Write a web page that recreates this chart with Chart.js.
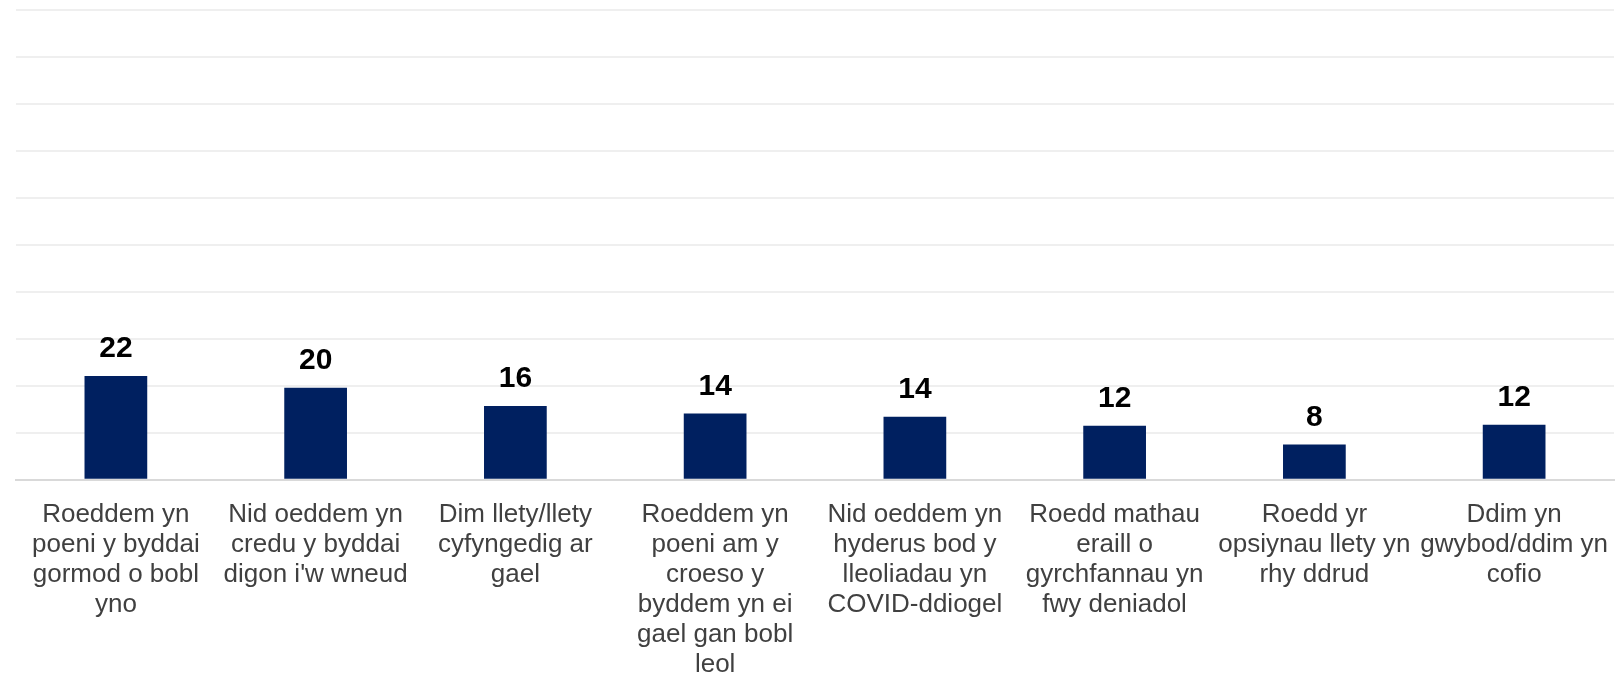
<!DOCTYPE html>
<html>
<head>
<meta charset="utf-8">
<script src="https://cdn.jsdelivr.net/npm/chart.js@4.4.1/dist/chart.umd.min.js"></script>
<style>
  html, body { margin: 0; padding: 0; background: #ffffff; overflow: hidden; }
  #wrap { width: 1623px; height: 680px; }
</style>
</head>
<body>
<div id="wrap"><canvas id="barCanvas" width="1623" height="680"></canvas></div>
<script>
// categories (x axis), multi-line as in the original
const categories = [
  ['Roeddem yn', 'poeni y byddai', 'gormod o bobl', 'yno'],
  ['Nid oeddem yn', 'credu y byddai', "digon i'w wneud"],
  ['Dim llety/llety', 'cyfyngedig ar', 'gael'],
  ['Roeddem yn', 'poeni am y', 'croeso y', 'byddem yn ei', 'gael gan bobl', 'leol'],
  ['Nid oeddem yn', 'hyderus bod y', 'lleoliadau yn', 'COVID-ddiogel'],
  ['Roedd mathau', 'eraill o', 'gyrchfannau yn', 'fwy deniadol'],
  ['Roedd yr', 'opsiynau llety yn', 'rhy ddrud'],
  ['Ddim yn', 'gwybod/ddim yn', 'cofio']
];

// percentages
const values = [22.1, 19.6, 15.7, 14.1, 13.4, 11.5, 7.5, 11.7];

// labels printed above the bars
const valueLabels = ['22', '20', '16', '14', '14', '12', '8', '12'];

const barColor = '#002060';

// draws the value labels above each bar
const valueLabelPlugin = {
  id: 'valueLabels',
  afterDatasetsDraw(chart) {
    const ctx = chart.ctx;
    const meta = chart.getDatasetMeta(0);
    ctx.save();
    ctx.font = 'bold 30px "Liberation Sans", Arial, sans-serif';
    ctx.fillStyle = '#000000';
    ctx.textAlign = 'center';
    ctx.textBaseline = 'alphabetic';
    meta.data.forEach((bar, i) => {
      ctx.fillText(valueLabels[i], bar.x, bar.y - 19);
    });
    ctx.restore();
  }
};

const ctx = document.getElementById('barCanvas').getContext('2d');

new Chart(ctx, {
  type: 'bar',
  data: {
    labels: categories,
    datasets: [
      {
        data: values,
        backgroundColor: barColor,
        borderWidth: 0,
        barPercentage: 0.314,
        categoryPercentage: 1.0
      }
    ]
  },
  options: {
    responsive: false,
    animation: false,
    layout: {
      padding: { left: 16, right: 9, top: 10, bottom: 0 }
    },
    plugins: {
      legend: { display: false },
      tooltip: { enabled: false }
    },
    scales: {
      x: {
        grid: { display: false, drawTicks: false },
        border: { display: true, color: '#d9d9d9', width: 2 },
        ticks: {
          color: '#404040',
          padding: 20,
          maxRotation: 0,
          autoSkip: false,
          font: { family: '"Liberation Sans", Arial, sans-serif', size: 26, lineHeight: 1.155 }
        },
        // long labels run close to the bottom edge, and the side padding
        // is left to the layout padding
        afterFit(scale) {
          scale.height -= 20;
          scale.paddingLeft = 0;
          scale.paddingRight = 0;
        }
      },
      y: {
        min: 0,
        max: 100,
        ticks: { display: false, stepSize: 10 },
        grid: { color: '#efefef', lineWidth: 2, drawTicks: false },
        border: { display: false }
      }
    }
  },
  plugins: [valueLabelPlugin]
});
</script>
</body>
</html>
